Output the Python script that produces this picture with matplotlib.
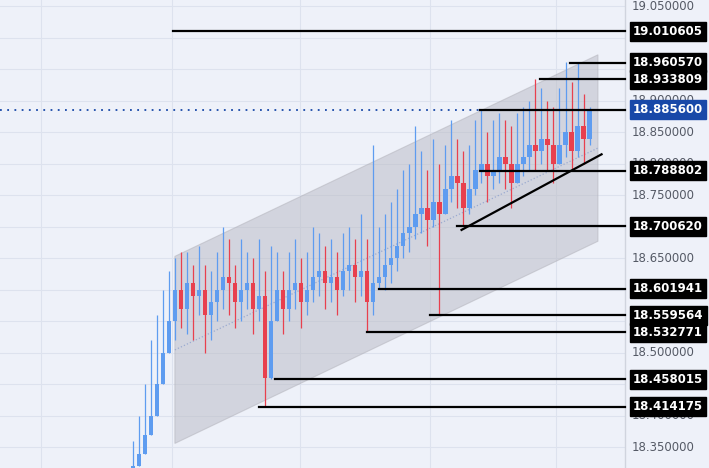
import matplotlib
matplotlib.use("Agg")
import numpy as np
import matplotlib.pyplot as plt
from matplotlib.patches import Polygon

closes = [18.32, 18.34, 18.37, 18.40, 18.45, 18.50, 18.55, 18.60,
          18.57, 18.61, 18.59, 18.60, 18.56, 18.58, 18.60, 18.62,
          18.61, 18.58, 18.60, 18.61, 18.57, 18.59, 18.46, 18.55,
          18.60, 18.57, 18.60, 18.61, 18.58, 18.60, 18.62, 18.63,
          18.61, 18.62, 18.60, 18.63, 18.64, 18.62, 18.63, 18.58,
          18.61, 18.62, 18.64, 18.65, 18.67, 18.69, 18.70, 18.72,
          18.73, 18.71, 18.74, 18.72, 18.76, 18.78, 18.77, 18.73,
          18.76, 18.79, 18.80, 18.78, 18.79, 18.81, 18.80, 18.77,
          18.80, 18.81, 18.83, 18.82, 18.84, 18.83, 18.80, 18.83,
          18.85, 18.82, 18.86, 18.84, 18.8856]
highs = [18.36, 18.40, 18.45, 18.52, 18.56, 18.60, 18.63, 18.65,
         18.66, 18.66, 18.64, 18.67, 18.64, 18.63, 18.66, 18.70,
         18.68, 18.64, 18.68, 18.66, 18.65, 18.68, 18.63, 18.67,
         18.66, 18.63, 18.66, 18.68, 18.65, 18.66, 18.70, 18.69,
         18.67, 18.68, 18.66, 18.69, 18.70, 18.68, 18.72, 18.68,
         18.83, 18.70, 18.72, 18.74, 18.76, 18.79, 18.80, 18.86,
         18.82, 18.79, 18.84, 18.80, 18.83, 18.87, 18.84, 18.82,
         18.83, 18.87, 18.886, 18.85, 18.87, 18.88, 18.87, 18.86,
         18.88, 18.89, 18.90, 18.934, 18.92, 18.90, 18.89, 18.92,
         18.961, 18.93, 18.961, 18.91, 18.89]
lows = [18.30, 18.32, 18.34, 18.37, 18.42, 18.46, 18.50, 18.52,
        18.54, 18.53, 18.52, 18.56, 18.50, 18.52, 18.55, 18.57,
        18.56, 18.54, 18.55, 18.57, 18.53, 18.55, 18.414, 18.458,
        18.55, 18.53, 18.55, 18.57, 18.54, 18.56, 18.58, 18.59,
        18.57, 18.58, 18.56, 18.59, 18.60, 18.58, 18.59, 18.533,
        18.56, 18.602, 18.60, 18.61, 18.63, 18.65, 18.66, 18.68,
        18.69, 18.67, 18.70, 18.5596, 18.72, 18.74, 18.73, 18.7006,
        18.72, 18.75, 18.77, 18.74, 18.76, 18.77, 18.76, 18.73,
        18.77, 18.78, 18.79, 18.79, 18.80, 18.79, 18.77, 18.80,
        18.81, 18.79, 18.81, 18.80, 18.83]
opens = [18.31] + closes[:-1]

# horizontal levels: (price, start index)
levels = [19.010605, 18.960570, 18.933809, 18.885600, 18.788802, 18.700620,
          18.601941, 18.559564, 18.532771, 18.458015, 18.414175]
level_starts = [6.7, 72.7, 67.7, 57.7, 57.7, 54, 41, 49.4, 39, 23.6, 21]
last_price = 18.885600
channel_x = [7, 77.4]
channel_top = [18.653, 18.973]
channel_bot = [18.356, 18.677]
trend_x = [54.7, 78]
trend_y = [18.695, 18.815]
yticks = [18.35, 18.40, 18.45, 18.50, 18.55, 18.60, 18.65, 18.70, 18.75,
          18.80, 18.85, 18.90, 18.95, 19.00, 19.05]

UP, DOWN = "#5e9cf0", "#e8404e"
BG = "#eef1f9"

fig = plt.figure(figsize=(7.09, 4.68), dpi=100, facecolor=BG)
ax = fig.add_axes([0, 0, 625 / 709, 1], facecolor=BG)
ax.set_xlim(-22.1, 81.9)
ax.set_ylim(18.317, 19.06)

for gx in [-15.2, 6.5, 27.8, 49.4, 70.4]:
    ax.axvline(gx, color="#dde2ee", lw=0.8, zorder=0)
for gy in yticks:
    ax.axhline(gy, color="#dde2ee", lw=0.8, zorder=0)

poly = Polygon([(channel_x[0], channel_bot[0]), (channel_x[1], channel_bot[1]),
                (channel_x[1], channel_top[1]), (channel_x[0], channel_top[0])],
               closed=True, facecolor="#b8b9c4", alpha=0.5, edgecolor="#b0b0b8", lw=0.8, zorder=1)
ax.add_patch(poly)
ax.plot(channel_x, [(a + b) / 2 for a, b in zip(channel_top, channel_bot)],
        ls=":", color="#9aaad0", lw=0.9, zorder=1)

for i, (o, h, l, c) in enumerate(zip(opens, highs, lows, closes)):
    col = UP if c >= o else DOWN
    ax.vlines(i, min(l, o, c), max(h, o, c), color=col, lw=0.9, zorder=3)
    ax.bar(i, max(abs(c - o), 0.002), bottom=min(o, c), width=0.75, color=col, zorder=3)

ax.axhline(last_price, color="#1848a8", ls=(0, (1, 3)), lw=1.3, zorder=2)
for p, s in zip(levels, level_starts):
    ax.plot([s, 81.9], [p, p], color="black", lw=1.6, zorder=4, clip_on=False)
ax.plot(trend_x, trend_y, color="black", lw=1.6, zorder=4)

for gy in yticks:
    ax.text(1.01, gy, f"{gy:.6f}", transform=ax.get_yaxis_transform(),
            va="center", ha="left", fontsize=8.5, color="#555a66", zorder=5)
for p in levels:
    fc = "#1848a8" if p == last_price else "black"
    ax.text(1.013, p, f"{p:.6f}", transform=ax.get_yaxis_transform(), va="center", ha="left",
            fontsize=8.5, fontweight="bold", color="white", zorder=10,
            bbox=dict(boxstyle="square,pad=0.25", fc=fc, ec=fc))
ax.plot([1.0, 1.0], [0, 1], transform=ax.transAxes, color="#d0d4de", lw=1, clip_on=False)

ax.set_xticks([])
ax.set_yticks([])
for sp in ax.spines.values():
    sp.set_visible(False)

fig.savefig("out.png", dpi=100, facecolor=BG)
